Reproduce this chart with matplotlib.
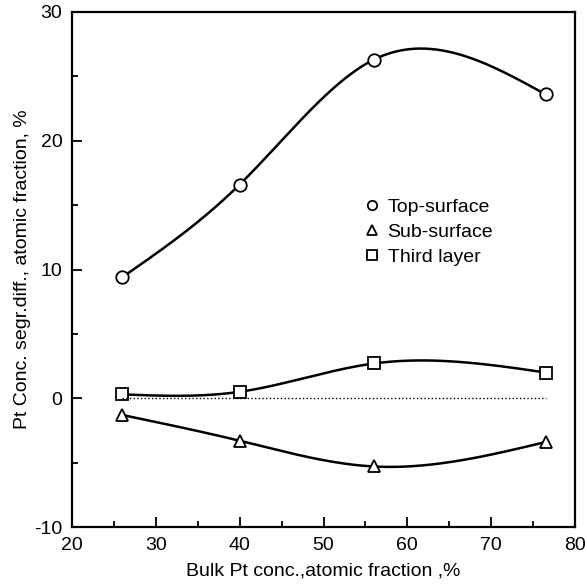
import matplotlib.pyplot as plt
import numpy as np
from matplotlib.ticker import MultipleLocator

plt.rcParams['font.family'] = ['Liberation Sans', 'DejaVu Sans']
plt.rcParams['axes.unicode_minus'] = False

# Messwerte
bulk = [26, 40, 56, 76.5]
top_surface = [9.4, 16.6, 26.3, 23.6]
sub_surface = [-1.3, -3.3, -5.3, -3.4]
third_layer = [0.3, 0.5, 2.7, 2.0]


def spline(x, y, n=300):
    # natuerlicher kubischer Spline, nur fuer die glatte Verbindungslinie
    x = np.asarray(x, float)
    y = np.asarray(y, float)
    k = len(x)
    h = np.diff(x)
    A = np.zeros((k, k))
    b = np.zeros(k)
    A[0, 0] = A[-1, -1] = 1
    for i in range(1, k - 1):
        A[i, i - 1] = h[i - 1]
        A[i, i] = 2 * (h[i - 1] + h[i])
        A[i, i + 1] = h[i]
        b[i] = 6 * ((y[i + 1] - y[i]) / h[i] - (y[i] - y[i - 1]) / h[i - 1])
    M = np.linalg.solve(A, b)
    xs = np.linspace(x[0], x[-1], n)
    idx = np.clip(np.searchsorted(x, xs) - 1, 0, k - 2)
    t0 = xs - x[idx]
    t1 = x[idx + 1] - xs
    hi = h[idx]
    ys = (M[idx] * t1**3 + M[idx + 1] * t0**3) / (6 * hi) \
        + (y[idx] / hi - M[idx] * hi / 6) * t1 \
        + (y[idx + 1] / hi - M[idx + 1] * hi / 6) * t0
    return xs, ys


fig = plt.figure(figsize=(5.85, 5.84), dpi=100)
ax = fig.add_axes([72 / 585, 57 / 584, 503 / 585, 515 / 584])

for data, m, lab in [(top_surface, 'o', 'Top-surface'),
                     (sub_surface, '^', 'Sub-surface'),
                     (third_layer, 's', 'Third layer')]:
    xs, ys = spline(bulk, data)
    ax.plot(xs, ys, 'k-', lw=1.8)
    ax.plot(bulk, data, m, ms=9, mfc='white', mec='black', mew=1.3, label=lab)

ax.plot([bulk[0], bulk[-1]], [0, 0], 'k:', lw=1)

ax.set_xlim(20, 80)
ax.set_ylim(-10, 30)
ax.xaxis.set_major_locator(MultipleLocator(10))
ax.xaxis.set_minor_locator(MultipleLocator(5))
ax.yaxis.set_major_locator(MultipleLocator(10))
ax.yaxis.set_minor_locator(MultipleLocator(5))
ax.tick_params(which='both', direction='in', labelsize=14, width=1.3)
ax.tick_params(which='major', length=7, pad=7)
ax.tick_params(which='minor', length=4)
for s in ax.spines.values():
    s.set_linewidth(1.6)

ax.set_xlabel('Bulk Pt conc.,atomic fraction ,%', fontsize=14, labelpad=6)
ax.set_ylabel('Pt Conc. segr.diff., atomic fraction, %', fontsize=14, labelpad=2)

ax.legend(loc='upper left', bbox_to_anchor=(0.55, 0.672), frameon=False,
          fontsize=14, handlelength=0.6, handletextpad=0.5, markerscale=0.75,
          labelspacing=0.38)

plt.savefig('out.png')
